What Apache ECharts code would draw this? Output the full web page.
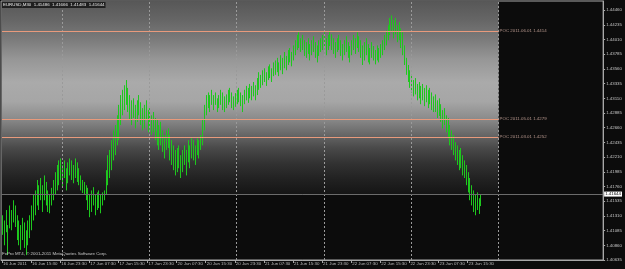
<!DOCTYPE html>
<html><head><meta charset="utf-8">
<script src="https://cdn.jsdelivr.net/npm/echarts@6/dist/echarts.min.js"></script>
<style>html,body{margin:0;padding:0;background:#0c0c0c;}#c{width:625px;height:269px;}</style>
</head><body><div id="c"></div>
<script>
const timeLabels = ['16 Jun 2011','16 Jun 15:30','16 Jun 23:30','17 Jun 07:30','17 Jun 15:30','17 Jun 23:30','20 Jun 07:30','20 Jun 15:30','20 Jun 23:30','21 Jun 07:30','21 Jun 15:30','21 Jun 23:30','22 Jun 07:30','22 Jun 15:30','22 Jun 23:30','23 Jun 07:30','23 Jun 15:30'];
const barsPerLabel = 16;
const totalSlots = 331;
const highs = [
1.4132,1.4124,1.4140,1.4117,1.4147,1.4140,1.4155,1.4147,1.4132,1.4124,1.4117,1.4128,1.4121,1.4109,1.4124,1.4132,
1.4147,1.4163,1.4170,1.4186,1.4178,1.4189,1.4178,1.4193,1.4183,1.4170,1.4163,1.4174,1.4186,1.4198,1.4209,1.4216,
1.4219,1.4209,1.4216,1.4204,1.4213,1.4219,1.4216,1.4209,1.4219,1.4213,1.4204,1.4193,1.4186,1.4183,1.4178,1.4174,
1.4163,1.4170,1.4175,1.4163,1.4167,1.4170,1.4163,1.4167,1.4170,1.4201,1.4224,1.4232,1.4247,1.4262,1.4270,1.4285,
1.4301,1.4316,1.4324,1.4331,1.4339,1.4327,1.4316,1.4308,1.4311,1.4301,1.4308,1.4316,1.4305,1.4296,1.4301,1.4308,
1.4293,1.4296,1.4285,1.4290,1.4281,1.4278,1.4270,1.4275,1.4262,1.4255,1.4262,1.4265,1.4255,1.4247,1.4239,1.4232,
1.4235,1.4239,1.4224,1.4232,1.4239,1.4232,1.4247,1.4239,1.4250,1.4247,1.4239,1.4250,1.4247,1.4255,1.4278,1.4301,
1.4316,1.4320,1.4316,1.4324,1.4316,1.4320,1.4311,1.4316,1.4324,1.4320,1.4314,1.4317,1.4324,1.4327,1.4320,1.4314,
1.4319,1.4324,1.4327,1.4320,1.4316,1.4324,1.4330,1.4327,1.4333,1.4330,1.4336,1.4331,1.4342,1.4351,1.4347,1.4354,
1.4357,1.4351,1.4360,1.4363,1.4357,1.4366,1.4369,1.4373,1.4366,1.4377,1.4373,1.4382,1.4376,1.4385,1.4388,1.4382,
1.4392,1.4400,1.4408,1.4412,1.4403,1.4408,1.4400,1.4397,1.4403,1.4394,1.4400,1.4406,1.4397,1.4392,1.4400,1.4403,
1.4408,1.4412,1.4403,1.4408,1.4415,1.4409,1.4403,1.4397,1.4403,1.4408,1.4400,1.4394,1.4400,1.4406,1.4397,1.4391,
1.4400,1.4408,1.4403,1.4412,1.4406,1.4400,1.4392,1.4397,1.4403,1.4394,1.4388,1.4397,1.4391,1.4385,1.4392,1.4388,
1.4394,1.4400,1.4408,1.4415,1.4423,1.4434,1.4438,1.4431,1.4434,1.4423,1.4428,1.4418,1.4412,1.4392,1.4373,1.4362,
1.4354,1.4347,1.4339,1.4342,1.4333,1.4336,1.4330,1.4333,1.4327,1.4331,1.4324,1.4327,1.4320,1.4314,1.4317,1.4308,
1.4311,1.4302,1.4293,1.4296,1.4285,1.4281,1.4270,1.4262,1.4255,1.4244,1.4239,1.4232,1.4235,1.4224,1.4216,1.4209,
1.4198,1.4189,1.4178,1.4170,1.4163,1.4167,1.4158,1.4164
];
const lows = [
1.4102,1.4086,1.4106,1.4071,1.4112,1.4109,1.4121,1.4114,1.4094,1.4086,1.4079,1.4094,1.4082,1.4071,1.4086,1.4097,
1.4109,1.4124,1.4132,1.4147,1.4140,1.4155,1.4137,1.4155,1.4147,1.4137,1.4135,1.4147,1.4155,1.4163,1.4170,1.4178,
1.4186,1.4174,1.4189,1.4170,1.4181,1.4193,1.4186,1.4181,1.4189,1.4183,1.4178,1.4170,1.4166,1.4163,1.4155,1.4140,
1.4129,1.4137,1.4147,1.4132,1.4140,1.4143,1.4135,1.4147,1.4155,1.4163,1.4178,1.4189,1.4201,1.4216,1.4224,1.4239,
1.4247,1.4270,1.4285,1.4293,1.4301,1.4290,1.4278,1.4270,1.4281,1.4265,1.4275,1.4285,1.4270,1.4262,1.4265,1.4278,
1.4259,1.4265,1.4255,1.4259,1.4247,1.4239,1.4232,1.4239,1.4229,1.4219,1.4232,1.4235,1.4216,1.4209,1.4201,1.4193,
1.4198,1.4204,1.4189,1.4198,1.4209,1.4193,1.4213,1.4204,1.4219,1.4216,1.4209,1.4224,1.4219,1.4232,1.4239,1.4262,
1.4285,1.4296,1.4290,1.4301,1.4293,1.4301,1.4290,1.4296,1.4301,1.4293,1.4290,1.4296,1.4301,1.4305,1.4296,1.4293,
1.4298,1.4302,1.4305,1.4299,1.4290,1.4302,1.4308,1.4304,1.4311,1.4308,1.4314,1.4308,1.4316,1.4324,1.4327,1.4331,
1.4336,1.4330,1.4339,1.4342,1.4336,1.4345,1.4347,1.4351,1.4345,1.4354,1.4348,1.4357,1.4354,1.4362,1.4366,1.4360,
1.4369,1.4377,1.4385,1.4388,1.4382,1.4385,1.4376,1.4373,1.4379,1.4369,1.4377,1.4382,1.4373,1.4366,1.4376,1.4382,
1.4385,1.4388,1.4377,1.4385,1.4391,1.4385,1.4379,1.4373,1.4382,1.4385,1.4376,1.4369,1.4377,1.4382,1.4373,1.4366,
1.4377,1.4385,1.4379,1.4388,1.4382,1.4373,1.4362,1.4369,1.4377,1.4366,1.4363,1.4373,1.4369,1.4363,1.4369,1.4366,
1.4373,1.4377,1.4385,1.4392,1.4400,1.4408,1.4412,1.4403,1.4409,1.4397,1.4400,1.4388,1.4377,1.4362,1.4347,1.4336,
1.4327,1.4320,1.4314,1.4317,1.4308,1.4311,1.4302,1.4308,1.4299,1.4305,1.4296,1.4302,1.4293,1.4290,1.4290,1.4281,
1.4284,1.4275,1.4265,1.4270,1.4259,1.4250,1.4239,1.4232,1.4224,1.4216,1.4209,1.4201,1.4204,1.4193,1.4189,1.4178,
1.4167,1.4155,1.4147,1.4137,1.4132,1.4140,1.4134,1.4146
];
const bidPrice = 1.41644;
const pocLabels = ['POC 2011.06.01 1.4414','POC 2011.05.01 1.4279','POC 2011.03.01 1.4252'];
const pocValues = [1.4414, 1.4279, 1.4252];
const daySeparators = [33, 81, 129, 177, 225, 273];
const pocEndSlot = 273;
const headerText = 'EURUSD,M30  1.41486  1.41666  1.41483  1.41644';
const copyrightText = 'FxPro MT4, \u00a9 2001-2011 MetaQuotes Software Corp.';
const priceMin = 1.40635, priceMax = 1.44600, priceStep = 0.00225;

const slots = Array.from({length: totalSlots}, (_, i) => String(i));
const barData = highs.map((h, i) => [i, h, lows[i]]);
const FONT = 'Liberation Sans';
const FS = 4.4;

const chart = echarts.init(document.getElementById('c'), null, {renderer: 'canvas'});
chart.setOption({
  backgroundColor: '#0c0c0c',
  animation: false,
  grid: {left: 1, right: 17, top: 1, bottom: 9, show: true, borderColor: '#a8a8a8', borderWidth: 1, backgroundColor: 'transparent'},
  xAxis: {
    type: 'category', data: slots, boundaryGap: true,
    axisLine: {show: true, lineStyle: {color: '#a8a8a8', width: 1}},
    axisTick: {show: true, alignWithLabel: true, length: 3, lineStyle: {color: '#a8a8a8'},
      interval: (i) => i % barsPerLabel === 0 && i / barsPerLabel < timeLabels.length},
    axisLabel: {show: true, color: '#bdbdbd', fontSize: FS, fontFamily: FONT, margin: 2, align: 'left', padding: [0,0,0,1],
      interval: (i) => i % barsPerLabel === 0 && i / barsPerLabel < timeLabels.length,
      formatter: (v, i) => timeLabels[i / barsPerLabel] || ''},
    splitLine: {show: false}
  },
  yAxis: {
    type: 'value', position: 'right', min: priceMin, max: priceMax, interval: priceStep, scale: true,
    axisLine: {show: true, lineStyle: {color: '#a8a8a8', width: 1}},
    axisTick: {show: true, length: 2, lineStyle: {color: '#a8a8a8'}},
    axisLabel: {color: '#c4c4c4', fontSize: FS, fontFamily: FONT, margin: 3, showMaxLabel: false,
      formatter: (v) => v.toFixed(5)},
    splitLine: {show: false}
  },
  series: [
    {
      type: 'line', data: [], z: 1, silent: true,
      markArea: {
        silent: true,
        itemStyle: {color: new echarts.graphic.LinearGradient(0, 0, 0, 1, [
          {offset: 0, color: '#575757'},
          {offset: 0.1, color: '#666666'},
          {offset: 0.2, color: '#7b7b7b'},
          {offset: 0.3, color: '#969696'},
          {offset: 0.42, color: '#aaaaaa'},
          {offset: 0.52, color: '#a6a6a6'},
          {offset: 0.6, color: '#8e8e8e'},
          {offset: 0.68, color: '#6c6c6c'},
          {offset: 0.76, color: '#4a4a4a'},
          {offset: 0.84, color: '#323232'},
          {offset: 0.92, color: '#222222'},
          {offset: 1, color: '#151515'}
        ])},
        data: [[{coord: [0, priceMax]}, {coord: [pocEndSlot, bidPrice]}]]
      }
    },
    {
      type: 'line', data: [], z: 2, silent: true,
      markLine: {
        silent: true, symbol: ['none', 'none'], animation: false, precision: 5,
        data: [
          ...daySeparators.map(s => ({xAxis: s, lineStyle: {color: '#9a9a9a', type: [2, 2], width: 1}, label: {show: false}})),
          {yAxis: bidPrice, lineStyle: {color: '#6c6c6c', type: 'solid', width: 1},
            label: {show: true, position: 'end', distance: 1, formatter: bidPrice.toFixed(5), color: '#000', backgroundColor: '#ffffff',
              fontSize: FS, fontFamily: FONT, padding: [1, 1, 0, 1]}},
          ...pocValues.map((v, i) => [
            {coord: [0, v], lineStyle: {color: '#e89a7c', type: 'solid', width: 1.2},
              label: {show: true, position: 'end', distance: 1, formatter: pocLabels[i], color: '#b8988e', fontSize: FS, fontFamily: FONT}},
            {coord: [pocEndSlot, v]}
          ])
        ]
      }
    },
    {
      type: 'custom', z: 3, data: barData, encode: {x: 0, y: [1, 2]},
      renderItem: (params, api) => {
        const i = api.value(0);
        const hi = api.coord([i, api.value(1)]);
        const lo = api.coord([i, api.value(2)]);
        const x = Math.round(hi[0]) + 0.5;
        return {type: 'line', shape: {x1: x, y1: hi[1], x2: x, y2: lo[1]}, style: {stroke: '#1ec81e', lineWidth: 1}};
      }
    }
  ],
  graphic: [
    {type: 'text', left: 2, top: 2, z: 10, style: {text: headerText, fill: '#e8e8e8', fontSize: FS, fontFamily: FONT, backgroundColor: '#202020', padding: [1, 1]}},
    {type: 'text', left: 2, top: 252, z: 10, style: {text: copyrightText, fill: '#c8c8c8', fontSize: FS, fontFamily: FONT}}
  ]
});
</script></body></html>
